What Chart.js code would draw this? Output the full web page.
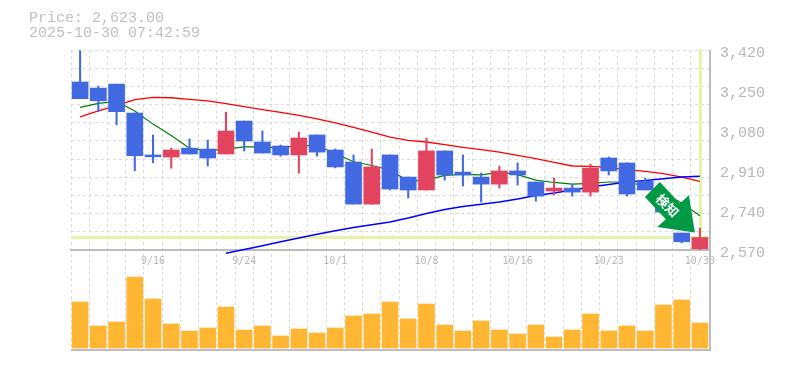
<!DOCTYPE html>
<html>
<head>
<meta charset="utf-8">
<script src="https://cdn.jsdelivr.net/npm/chart.js@4/dist/chart.umd.min.js"></script>
<style>
  html, body { margin:0; padding:0; background:#fff; }
  #wrap { position:relative; width:785px; height:370px; overflow:hidden; }
  #head { position:absolute; left:29px; top:11px; font:15px/15px "Liberation Mono", monospace; color:#bfbfbf; white-space:pre; }
</style>
</head>
<body>
<div id="wrap">
  <canvas id="chart" width="785" height="370"></canvas>
  <div id="head">Price: 2,623.00
2025-10-30 07:42:59</div>
</div>
<script>
const dates = ['9/9','9/10','9/11','9/12','9/16','9/17','9/18','9/19','9/22','9/24','9/25','9/26','9/29','9/30','10/1','10/2','10/3','10/6','10/7','10/8','10/9','10/10','10/14','10/15','10/16','10/17','10/20','10/21','10/22','10/23','10/24','10/27','10/28','10/29','10/30'];
const dateTicks = ['9/16','9/24','10/1','10/8','10/16','10/23','10/30'];
const priceTicks = [2570,2740,2910,3080,3250,3420];

const opens  = [3284,3258,3275,3152,2974,2965,3003,2999,2978,3118,3029,3012,2974,3059,2995,2944,2765,2974,2880,2825,2991,2901,2880,2850,2906,2859,2821,2833,2816,2961,2940,2863,2800,2642,2575];
const closes = [3213,3204,3158,2971,2966,2995,2978,2961,3076,3033,2982,2974,3046,2986,2923,2765,2923,2829,2825,2991,2889,2889,2850,2906,2889,2799,2833,2816,2918,2906,2808,2825,2731,2605,2623];
const highs  = [3417,3267,3275,3152,3059,3003,3042,3037,3156,3118,3076,3016,3071,3059,2999,2974,2999,2974,2880,3046,2991,2974,2897,2927,2940,2859,2876,2850,2935,2965,2940,2876,2800,2642,2663];
const lows   = [3213,3158,3102,2907,2941,2918,2978,2927,2978,2991,2982,2969,2897,2969,2919,2765,2765,2825,2791,2825,2867,2842,2774,2833,2846,2778,2804,2799,2799,2889,2799,2825,2731,2600,2572];
const volumes = [46,22,26,71,49,24,17,20,41,18,22,12,19,15,20,32,34,46,29,44,23,17,27,18,14,23,11,18,34,17,22,17,43,48,25];

const maShort = [3176,3193,3202,3161,3105,3057,3003,2991,2999,3008,3008,3003,3016,3012,2980,2945,2929,2910,2863,2867,2887,2891,2889,2900,2890,2867,2857,2850,2853,2859,2859,2842,2812,2770,2716];
const maMid   = [3136,3161,3184,3209,3219,3217,3210,3204,3192,3179,3167,3155,3142,3127,3110,3091,3071,3050,3036,3029,3018,3006,2997,2986,2972,2958,2942,2927,2925,2921,2912,2904,2895,2880,2862];
const maLong  = [null,null,null,null,null,null,null,null,2556,2572,2588,2605,2621,2637,2652,2666,2677,2689,2706,2725,2742,2755,2764,2774,2787,2802,2812,2825,2838,2848,2859,2865,2873,2880,2883];

const lastPrice = 2623;

const C = { up:'#e2435f', down:'#4169e1', vol:'#ffb733', mark:'#e4f5a8', grid:'#dcdcdc', axis:'#bdbdbd', tick:'#b8b8b8', arrow:'#009944' };
const MONO = '"Liberation Mono", monospace';
const candleColor = opens.map((o,i) => closes[i] >= o ? C.up : C.down);
const GRID_STEPS = 11;

// pale cross on the last price, under the candles
const crossPlugin = {
  id:'cross',
  beforeDatasetsDraw(chart) {
    const { ctx, chartArea:a, scales } = chart;
    const x = Math.round(scales.x.getPixelForValue(dates.length-1));
    const y = Math.round(scales.y.getPixelForValue(lastPrice));
    ctx.save();
    ctx.fillStyle = C.mark;
    ctx.fillRect(a.left, y-2, a.right-a.left, 3);
    ctx.fillRect(x-1, a.top, 3, y-a.top);
    ctx.restore();
  }
};

// frame lines + green arrow badge
const overlayPlugin = {
  id:'overlay',
  afterDatasetsDraw(chart) {
    const { ctx, chartArea:a, scales } = chart;
    ctx.save();
    ctx.fillStyle = C.axis;
    ctx.fillRect(a.left, a.bottom-1, a.right-a.left+2, 2);
    ctx.fillRect(a.right, a.top, 2, a.bottom-a.top);

    const tx = scales.x.getPixelForValue(dates.length-1) - 5;
    const ty = scales.y.getPixelForValue(lastPrice) - 5;
    const shape = [[-35,-50.6],[-50,-35.6],[-29,-13.3],[-37.7,-5.6],[0,0],[-6,-37.3],[-15,-29]];
    ctx.beginPath();
    shape.forEach(([dx,dy],i) => i ? ctx.lineTo(tx+dx,ty+dy) : ctx.moveTo(tx+dx,ty+dy));
    ctx.closePath();
    ctx.fillStyle = C.arrow;
    ctx.fill();

    ctx.translate(tx-27.5, ty-27);
    ctx.rotate(Math.PI/4);
    ctx.fillStyle = '#fff';
    ctx.font = 'bold 13px "Noto Sans CJK JP"';
    ctx.textAlign = 'center';
    ctx.textBaseline = 'middle';
    ctx.fillText('検知', 0, 0);
    ctx.restore();
  }
};

new Chart(document.getElementById('chart').getContext('2d'), {
  type:'bar',
  plugins:[crossPlugin, overlayPlugin],
  data:{
    labels:dates,
    datasets:[
      { type:'line', data:maLong,  borderColor:'#0000ff', borderWidth:1.5, pointRadius:0, tension:0, clip:false, order:5 },
      { type:'line', data:maMid,   borderColor:'#ff0000', borderWidth:1.3, pointRadius:0, tension:0, order:5 },
      { type:'line', data:maShort, borderColor:'#008000', borderWidth:1.2, pointRadius:0, tension:0, order:5 },
      { data:lows.map((l,i)=>[l,highs[i]]), backgroundColor:candleColor, barThickness:1.4, grouped:false, clip:false, order:2 },
      { data:opens.map((o,i)=>[o,closes[i]]), backgroundColor:candleColor, barThickness:16, grouped:false, clip:false, order:1 },
      { data:volumes, yAxisID:'yVol', backgroundColor:C.vol, barThickness:16, grouped:false, order:3 },
    ]
  },
  options:{
    responsive:false, animation:false, events:[],
    layout:{ padding:{ left:71, top:50, bottom:20, right:0 } },
    plugins:{ legend:{display:false}, tooltip:{enabled:false}, title:{display:false} },
    scales:{
      x:{
        position:{ y:2570 },
        grid:{ color:C.grid, drawTicks:false, offset:true },
        border:{ color:C.axis, width:2, dash:[3,3] },
        ticks:{ color:C.tick, font:{family:'"DejaVu Sans Mono", monospace',size:10}, padding:5, autoSkip:false, maxRotation:0,
                callback(v){ const d = this.getLabelForValue(v); return dateTicks.includes(d) ? d : ''; } },
      },
      y:{
        position:'right', stack:'panes', stackWeight:2, min:2570, max:3420,
        afterFit(s){ s.width = 76; },
        afterBuildTicks(s){
          const gridVals = Array.from({length:GRID_STEPS+1},(_,k)=>2570+k*850/GRID_STEPS);
          s.ticks = [...gridVals.map(value=>({value})), ...priceTicks.slice(1,-1).map(value=>({value,label:true}))]
            .sort((a,b)=>a.value-b.value);
        },
        grid:{ drawTicks:false, color:c => priceTicks.slice(1,-1).includes(c.tick.value) ? 'rgba(0,0,0,0)' : C.grid },
        border:{ display:false, dash:[3,3] },
        ticks:{ color:C.tick, font:{family:MONO,size:15}, padding:11, labelOffset:3, autoSkip:false,
                callback:v => priceTicks.includes(v) ? v.toLocaleString('en-US') : '' },
      },
      yVol:{
        position:'right', stack:'panes', stackWeight:1, min:-2, max:98,
        afterFit(s){ s.width = 76; },
        grid:{ display:false },
        border:{ display:false },
        ticks:{ display:false },
      },
    },
  },
});
</script>
</body>
</html>
